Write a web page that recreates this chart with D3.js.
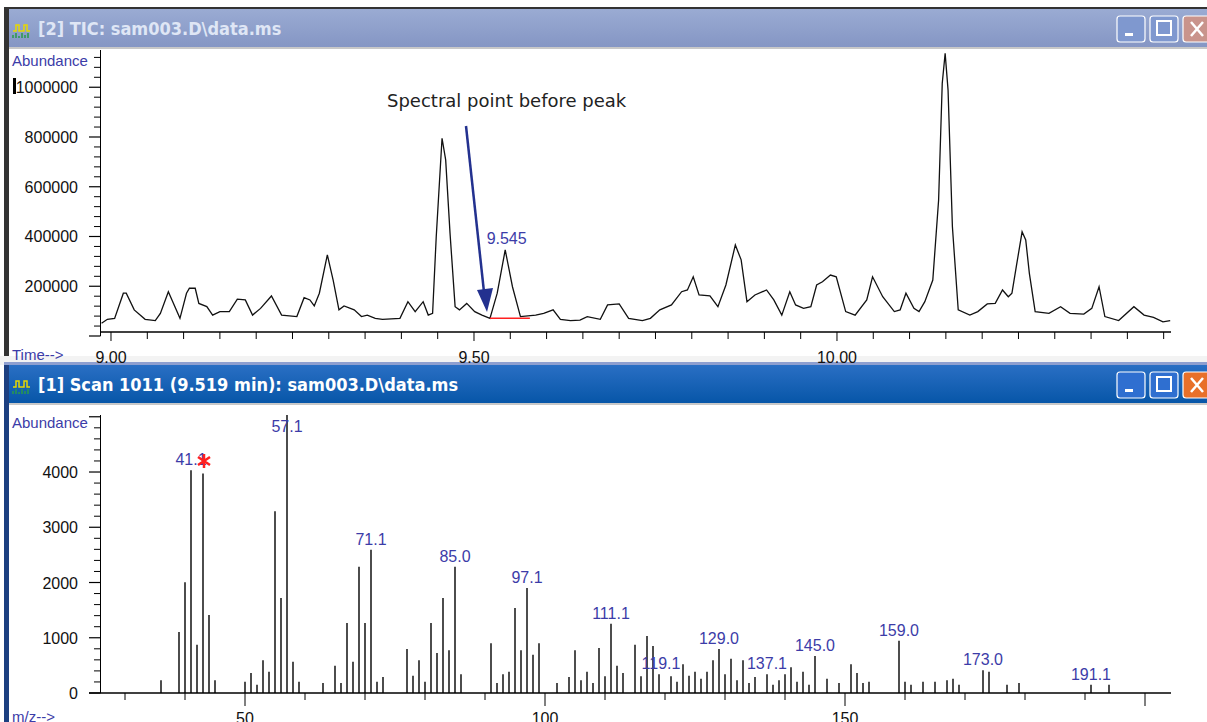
<!DOCTYPE html>
<html><head><meta charset="utf-8">
<script src="https://cdn.jsdelivr.net/npm/d3@7"></script>
<style>body{margin:0;background:#fff}svg{display:block}</style>
</head><body>
<svg id="c" width="1207" height="722"></svg>
<script>
// TIC trace: retention time (min) and abundance
const ticTime = [8.987,8.995,9.005,9.017,9.021,9.032,9.047,9.061,9.068,9.079,9.095,9.104,9.108,9.116,9.121,9.132,9.140,9.150,9.163,9.174,9.185,9.195,9.206,9.221,9.235,9.256,9.266,9.274,9.280,9.287,9.298,9.306,9.314,9.321,9.335,9.345,9.353,9.364,9.374,9.398,9.409,9.419,9.430,9.437,9.443,9.448,9.456,9.461,9.467,9.474,9.480,9.490,9.501,9.511,9.522,9.532,9.543,9.553,9.564,9.585,9.596,9.609,9.619,9.633,9.646,9.656,9.674,9.684,9.700,9.713,9.732,9.743,9.756,9.772,9.786,9.794,9.802,9.810,9.825,9.836,9.847,9.860,9.868,9.876,9.887,9.903,9.913,9.924,9.935,9.943,9.954,9.964,9.972,9.980,9.991,9.999,10.012,10.025,10.041,10.049,10.063,10.079,10.087,10.095,10.106,10.113,10.121,10.132,10.140,10.145,10.149,10.153,10.159,10.167,10.183,10.194,10.207,10.218,10.228,10.236,10.241,10.247,10.255,10.260,10.265,10.273,10.292,10.308,10.321,10.340,10.351,10.361,10.369,10.388,10.409,10.423,10.436,10.449,10.459];
const ticAbund = [51,67,71,172,172,105,67,62,91,178,71,172,192,192,131,118,84,98,98,148,145,84,111,161,84,78,154,145,121,172,326,225,105,121,105,78,84,71,67,71,138,98,138,84,91,399,795,708,413,118,105,131,98,84,71,172,346,198,78,84,91,105,67,62,64,78,67,125,129,71,62,71,105,125,178,185,238,165,161,118,205,366,306,138,165,185,145,84,178,125,111,118,205,218,245,238,98,84,145,238,158,98,105,172,111,98,138,225,547,1016,1136,989,439,105,84,98,129,131,185,158,172,279,419,386,252,98,91,118,91,88,111,198,78,62,118,84,75,57,62].map(v => v * 1000);
const baselineTimes = [9.522, 9.577];
const baselineAbund = 71000;

// mass spectrum of scan 1011
const mz = [36,39,40,41,42,43,44,45,50,51,52,53,54,55,56,57,58,59,63,65,66,67,68,69,70,71,72,73,77,78,79,80,81,82,83,84,85,86,91,92,93,94,95,96,97,98,99,102,104,105,106,107,108,109,110,111,112,113,115,116,117,118,119,121,122,123,124,125,126,127,128,129,130,131,132,133,134,135,137,138,139,140,141,142,143,144,145,147,149,151,152,153,154,159,160,161,163,165,167,168,169,173,174,177,179,191,194];
const abund = [229,1104,2003,4030,875,3975,1412,229,205,362,151,591,386,3288,1719,5040,567,205,181,495,181,1267,567,2286,1267,2594,205,290,796,314,591,205,1267,724,1719,772,2286,338,899,181,338,386,1538,772,1900,694,899,181,290,772,229,386,181,814,302,1255,495,362,875,302,1032,851,338,302,205,519,314,386,259,386,591,796,338,621,229,591,181,290,338,151,229,338,465,205,386,151,670,259,181,519,362,181,205,947,205,151,205,205,229,259,151,410,386,151,181,151,151];
const peakLabels = [[41,'41.1'],[57,'57.1'],[71,'71.1'],[85,'85.0'],[97,'97.1'],[111,'111.1'],[119,'119.1'],[129,'129.0'],[137,'137.1'],[145,'145.0'],[159,'159.0'],[173,'173.0'],[191,'191.1']];

const svg = d3.select('#c');
const FONT = 'Arial, "Liberation Sans", sans-serif';
const BLUE = '#3c3ca8';

function windowChrome(y0, y1, title, active) {
  const g = svg.append('g');
  g.append('rect').attr('x', 4).attr('y', y0).attr('width', 1203).attr('height', y1 - y0).attr('fill', '#fff');
  const grad = active ? ['#2a6fc4', '#0756a8'] : ['#9aabd3', '#8596c4'];
  const id = 'gr' + y0;
  const lg = svg.append('defs').append('linearGradient').attr('id', id).attr('x1', 0).attr('x2', 0).attr('y1', 0).attr('y2', 1);
  lg.append('stop').attr('offset', 0).attr('stop-color', grad[0]);
  lg.append('stop').attr('offset', 1).attr('stop-color', grad[1]);
  g.append('rect').attr('x', 4).attr('y', y0).attr('width', 1203).attr('height', 38).attr('fill', `url(#${id})`);
  g.append('rect').attr('x', 8).attr('y', y0 + 38).attr('width', 1199).attr('height', 2).attr('fill', '#c8c8c8');
  g.append('rect').attr('x', 4).attr('y', y0).attr('width', 5).attr('height', y1 - y0).attr('fill', active ? '#1c3f80' : '#333');
  // icon
  g.append('path').attr('d', `M13 ${y0+22} h3 v-6 h3 v6 h3 M21 ${y0+22} h3 v-6 h3 v6 h3`).attr('stroke', '#e8d800').attr('fill', 'none').attr('stroke-width', 1.5);
  g.append('path').attr('d', `M13 ${y0+29} v-3 M16 ${y0+29} v-5 M19 ${y0+29} v-2 M22 ${y0+29} v-5 M25 ${y0+29} v-3 M28 ${y0+29} v-5`).attr('stroke', '#2a9a4a').attr('stroke-width', 1.5);
  g.append('text').attr('x', 38).attr('y', y0 + 26).attr('font-family', 'Tahoma, "DejaVu Sans Condensed", "DejaVu Sans", sans-serif')
    .attr('font-weight', 'bold').attr('font-size', 18).attr('fill', active ? '#fff' : '#dfe6f5').text(title);
  const bx = [1117, 1150, 1183];
  bx.forEach((x, i) => {
    const close = i === 2;
    g.append('rect').attr('x', x).attr('y', y0 + 7).attr('width', 28).attr('height', 26).attr('rx', 3)
      .attr('fill', close ? (active ? '#e8702a' : '#c9948c') : (active ? '#2f6fd0' : '#7f98cf')).attr('stroke', '#fff').attr('stroke-width', 1.2);
    if (i === 0) g.append('rect').attr('x', x + 8).attr('y', y0 + 24).attr('width', 8).attr('height', 3).attr('fill', '#fff');
    if (i === 1) g.append('rect').attr('x', x + 7).attr('y', y0 + 12).attr('width', 14).attr('height', 14).attr('fill', 'none').attr('stroke', '#fff').attr('stroke-width', 2);
    if (close) g.append('path').attr('d', `M${x+8} ${y0+13} l12 14 M${x+20} ${y0+13} l-12 14`).attr('stroke', '#fff').attr('stroke-width', 2.5);
  });
}

svg.append('rect').attr('x', 4).attr('y', 7).attr('width', 1203).attr('height', 2).attr('fill', '#333');
windowChrome(9, 358, '[2] TIC: sam003.D\\data.ms', false);
svg.append('rect').attr('x', 0).attr('y', 356).attr('width', 1207).attr('height', 9).attr('fill', '#f3f3f3');
svg.append('rect').attr('x', 4).attr('y', 362).attr('width', 1203).attr('height', 3).attr('fill', '#8e9fd0');
windowChrome(365, 722, '[1] Scan 1011 (9.519 min): sam003.D\\data.ms', true);

function tickAxisY(y, maxV, major, minor, maxLabel, fmt) {
  const g = svg.append('g').attr('stroke', '#000');
  g.append('line').attr('x1', 100.5).attr('x2', 100.5).attr('y1', y.range()[1]).attr('y2', y(0));
  d3.range(0, maxV + 1, minor).forEach(v => {
    const isMajor = Math.round(v / major) * major === v;
    g.append('line').attr('x1', isMajor ? 89 : 94).attr('x2', 100.5).attr('y1', y(v)).attr('y2', y(v)).attr('stroke-width', isMajor ? 1.2 : 1);
    if (isMajor && v <= maxLabel) svg.append('text').attr('x', 78).attr('y', y(v) + 6).attr('text-anchor', 'end')
      .attr('font-family', FONT).attr('font-size', 16).attr('fill', '#111').text(fmt(v));
  });
}

// ---- TIC panel
const xT = d3.scaleLinear().domain([8.98485, 10.4601]).range([100, 1171]);
const yT = d3.scaleLinear().domain([0, 1149720]).range([336, 50]);
const axT = yT(16000);
svg.append('line').attr('x1', 100).attr('x2', 1171).attr('y1', axT).attr('y2', axT).attr('stroke', '#000').attr('stroke-width', 1.3);
d3.range(0, 30).map(i => 9 + i * 0.05).filter(t => t <= 10.46).forEach((t, i) => {
  svg.append('line').attr('x1', xT(t)).attr('x2', xT(t)).attr('y1', axT).attr('y2', axT + (i % 10 === 0 ? 9 : 7)).attr('stroke', '#000');
  if (i % 10 === 0) svg.append('text').attr('x', xT(t)).attr('y', 363).attr('text-anchor', 'middle')
    .attr('font-family', FONT).attr('font-size', 16).attr('fill', '#111').text(t.toFixed(2));
});
tickAxisY(yT, 1120000, 200000, 40000, 1000000, v => v === 0 ? '' : String(v));
svg.append('rect').attr('x', 13).attr('y', 78).attr('width', 3).attr('height', 16).attr('fill', '#000');
svg.append('text').attr('x', 12).attr('y', 66).attr('font-family', FONT).attr('font-size', 15).attr('fill', BLUE).text('Abundance');
svg.append('text').attr('x', 12).attr('y', 360).attr('font-family', FONT).attr('font-size', 15).attr('fill', BLUE).text('Time-->');

svg.append('path').datum(ticTime.map((t, i) => [t, ticAbund[i]]))
  .attr('d', d3.line().x(d => xT(d[0])).y(d => yT(d[1])))
  .attr('fill', 'none').attr('stroke', '#111').attr('stroke-width', 1.3);
svg.append('line').attr('x1', xT(baselineTimes[0])).attr('x2', xT(baselineTimes[1]))
  .attr('y1', yT(baselineAbund)).attr('y2', yT(baselineAbund)).attr('stroke', '#ff2020').attr('stroke-width', 1.5);
svg.append('text').attr('x', xT(9.545)).attr('y', 244).attr('text-anchor', 'middle').attr('font-family', FONT)
  .attr('font-size', 16).attr('fill', BLUE).text('9.545');
svg.append('text').attr('x', 387).attr('y', 107).attr('font-family', 'Verdana, "DejaVu Sans", sans-serif')
  .attr('font-size', 18).attr('fill', '#222').text('Spectral point before peak');
// arrow
svg.append('line').attr('x1', 466).attr('y1', 126).attr('x2', 484).attr('y2', 292).attr('stroke', '#23318f').attr('stroke-width', 2.5);
svg.append('path').attr('d', 'M477 290 L493 288 L487 312 Z').attr('fill', '#23318f');

// ---- mass spectrum panel
const xS = d3.scaleLinear().domain([24, 204.333]).range([89, 1171]);
const yS = d3.scaleLinear().domain([0, 5032]).range([693, 415]);
svg.append('line').attr('x1', 89).attr('x2', 1171).attr('y1', 693).attr('y2', 693).attr('stroke', '#000').attr('stroke-width', 1.3);
d3.range(30, 201, 10).forEach(m => {
  const major = m % 50 === 0;
  svg.append('line').attr('x1', xS(m)).attr('x2', xS(m)).attr('y1', 693).attr('y2', 693 + (major ? 13 : 7)).attr('stroke', '#000');
  if (major && m < 200) svg.append('text').attr('x', xS(m)).attr('y', 724).attr('text-anchor', 'middle')
    .attr('font-family', FONT).attr('font-size', 16).attr('fill', '#111').text(m);
});
tickAxisY(yS, 5000, 1000, 200, 4000, v => String(v));
svg.append('text').attr('x', 12).attr('y', 428).attr('font-family', FONT).attr('font-size', 15).attr('fill', BLUE).text('Abundance');
svg.append('text').attr('x', 12).attr('y', 722).attr('font-family', FONT).attr('font-size', 15).attr('fill', BLUE).text('m/z-->');

svg.append('g').selectAll('line').data(mz).join('line')
  .attr('x1', d => xS(d)).attr('x2', d => xS(d))
  .attr('y1', 693).attr('y2', (d, i) => yS(Math.min(abund[i], 5032)))
  .attr('stroke', '#000').attr('stroke-width', 1.4);
svg.append('g').selectAll('text').data(peakLabels).join('text')
  .attr('x', d => xS(d[0]) + (d[0] === 119 ? 2 : 0))
  .attr('y', d => Math.max(yS(abund[mz.indexOf(d[0])]) - 5, 432))
  .attr('text-anchor', 'middle').attr('font-family', FONT).attr('font-size', 16).attr('fill', BLUE).text(d => d[1]);
// red marker
svg.append('path').attr('d', 'M204 454 v14 M198 457 l12 8 M210 457 l-12 8')
  .attr('stroke', '#ff2020').attr('stroke-width', 2.5);
</script>
</body></html>
